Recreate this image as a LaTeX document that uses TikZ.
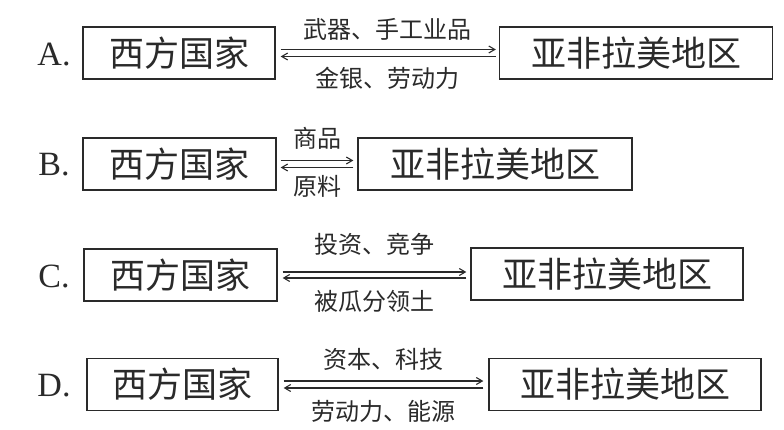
\documentclass[tikz,border=0pt]{standalone}
\usepackage{fontspec}
\usepackage{xcolor}
\usetikzlibrary{arrows.meta,calc}
\setmainfont{Liberation Serif}
\newfontfamily\cjk{Noto Sans CJK SC}
\definecolor{InkGray}{HTML}{2A2A2A}

\begin{document}
\begin{tikzpicture}[x=1pt, y=-1pt, every node/.style={align=center, text=InkGray},
    regionbox/.style={draw=InkGray, line width=1.3pt, inner sep=0pt,
        minimum height=52pt, font=\cjk\fontsize{35}{35}\selectfont},
    flowlabel/.style={inner sep=0pt, font=\cjk\fontsize{24}{24}\selectfont},
    optionmark/.style={inner sep=0pt, font=\fontsize{34}{34}\selectfont},
    flow/.style={draw=InkGray, line width=1.1pt, -{Straight Barb[length=6pt,width=7pt]}}]
      \useasboundingbox (0,0) rectangle (784,430);
      % A
      \node[optionmark] (mA) at (54,55) {A.};
      \node[regionbox, minimum width=192pt] (wA) at (179,53) {西方国家};
      \node[regionbox, minimum width=273pt] (eA) at (636,53) {亚非拉美地区};
      \draw[flow] ([xshift=5pt,yshift=3.5pt]wA.east) -- ([xshift=-3pt,yshift=3.5pt]eA.west);
      \draw[flow] ([xshift=-3pt,yshift=-3.5pt]eA.west) -- ([xshift=5pt,yshift=-3.5pt]wA.east);
      \node[flowlabel] (tA) at ([yshift=24pt]$(wA.east)!0.5!(eA.west)$) {武器、手工业品};
      \node[flowlabel] (bA) at ([yshift=-25pt]$(wA.east)!0.5!(eA.west)$) {金银、劳动力};
      % B
      \node[optionmark] (mB) at (54,165) {B.};
      \node[regionbox, minimum width=193pt] (wB) at (179.5,164) {西方国家};
      \node[regionbox, minimum width=274pt] (eB) at (495,164) {亚非拉美地区};
      \draw[flow] ([xshift=4pt,yshift=3.5pt]wB.east) -- ([xshift=-4pt,yshift=3.5pt]eB.west);
      \draw[flow] ([xshift=-4pt,yshift=-3.5pt]eB.west) -- ([xshift=4pt,yshift=-3.5pt]wB.east);
      \node[flowlabel] (tB) at ([yshift=26pt]$(wB.east)!0.5!(eB.west)$) {商品};
      \node[flowlabel] (bB) at ([yshift=-22pt]$(wB.east)!0.5!(eB.west)$) {原料};
      % C
      \node[optionmark] (mC) at (54,276) {C.};
      \node[regionbox, minimum width=193pt] (wC) at (180.5,275) {西方国家};
      \node[regionbox, minimum width=272pt] (eC) at (607,274) {亚非拉美地区};
      \draw[flow] ([xshift=5pt,yshift=3pt]wC.east) -- ([xshift=-4pt,yshift=2pt]eC.west);
      \draw[flow] ([xshift=-4pt,yshift=-4pt]eC.west) -- ([xshift=5pt,yshift=-3pt]wC.east);
      \node[flowlabel] (tC) at ([yshift=30pt]$(wC.east)!0.5!(eC.west)$) {投资、竞争};
      \node[flowlabel] (bC) at ([yshift=-27pt]$(wC.east)!0.5!(eC.west)$) {被瓜分领土};
      % D
      \node[optionmark] (mD) at (54,386) {D.};
      \node[regionbox, minimum width=191pt] (wD) at (182.5,384.5) {西方国家};
      \node[regionbox, minimum width=272pt] (eD) at (625,384.5) {亚非拉美地区};
      \draw[flow] ([xshift=5pt,yshift=3.5pt]wD.east) -- ([xshift=-5pt,yshift=3.5pt]eD.west);
      \draw[flow] ([xshift=-5pt,yshift=-3.5pt]eD.west) -- ([xshift=5pt,yshift=-3.5pt]wD.east);
      \node[flowlabel] (tD) at ([yshift=25pt]$(wD.east)!0.5!(eD.west)$) {资本、科技};
      \node[flowlabel] (bD) at ([yshift=-27pt]$(wD.east)!0.5!(eD.west)$) {劳动力、能源};
    \end{tikzpicture}
\end{document}
